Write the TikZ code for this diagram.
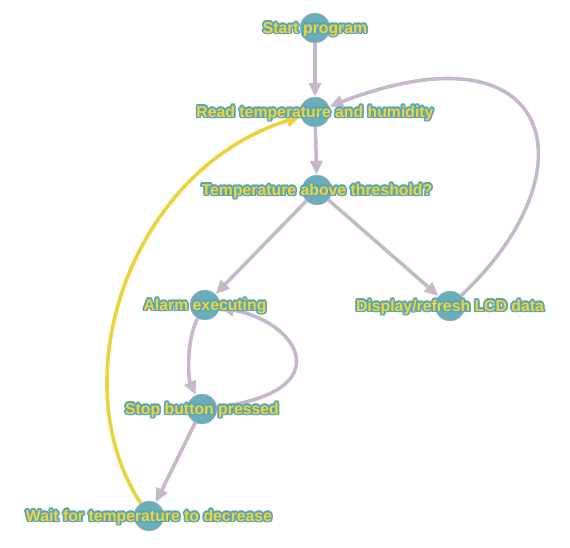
\documentclass[tikz,border=0pt]{standalone}
\usepackage{fontspec}
\setmainfont{Liberation Sans}
\usetikzlibrary{arrows.meta}

\definecolor{nodeblue}{HTML}{68AEBB}
\definecolor{edgegrey}{HTML}{C6B7CB}
\definecolor{loopyellow}{HTML}{EBD33E}
\definecolor{textyellow}{HTML}{F2D43A}
\definecolor{halo}{HTML}{5AA6B4}

% yellow text with a blue rim, put on top of a node
\newcommand{\statelabel}[2]{%
  \foreach \a in {0,30,...,330}
    \node[txt, text=halo] at ([shift={(\a:1.7)}]#1) {#2};
  \node[txt, text=textyellow] at (#1) {#2};
}

\begin{document}
\begin{tikzpicture}[x=1pt, y=1pt,
    main/.style = {draw=edgegrey, thin, circle, fill=nodeblue, minimum size=30pt, inner sep=0pt},
    txt/.style = {font=\bfseries\fontsize{15.8}{16}\selectfont, inner sep=0pt, yshift=-1.2pt},
    arr/.style = {draw=edgegrey, line width=3.6pt, -{Triangle[length=14pt,width=12pt]}},
    back/.style = {arr, draw=loopyellow}]
    \useasboundingbox (0,0) rectangle (570,-548);
    \node[main] (1) at (315,-28)  {};
    \node[main] (2) at (315,-112) {};
    \node[main] (3) at (317,-190) {};
    \node[main] (4) at (205,-305) {};
    \node[main] (5) at (450,-306) {};
    \node[main] (6) at (202,-409) {};
    \node[main] (7) at (149,-516) {};

    \draw[arr] (1) -- (2);
    \draw[arr] (2) -- (3);
    \draw[arr] (3) -- (4);
    \draw[arr] (3) -- (5);
    \draw[arr] (5) .. controls (595,-170) and (555,-20) .. (2);
    \draw[arr] (4) .. controls (186,-340) and (188,-378) .. (6);
    \draw[arr] (6) .. controls (340,-392) and (300,-322) .. (4);
    \draw[arr] (6) -- (7);
    \draw[back] (7) .. controls (60,-380) and (130,-170) .. (2);

    \statelabel{1}{Start program}
    \statelabel{2}{Read temperature and humidity}
    \statelabel{3}{Temperature above threshold?}
    \statelabel{4}{Alarm executing}
    \statelabel{5}{Display/refresh LCD data}
    \statelabel{6}{Stop button pressed}
    \statelabel{7}{Wait for temperature to decrease}
\end{tikzpicture}
\end{document}
